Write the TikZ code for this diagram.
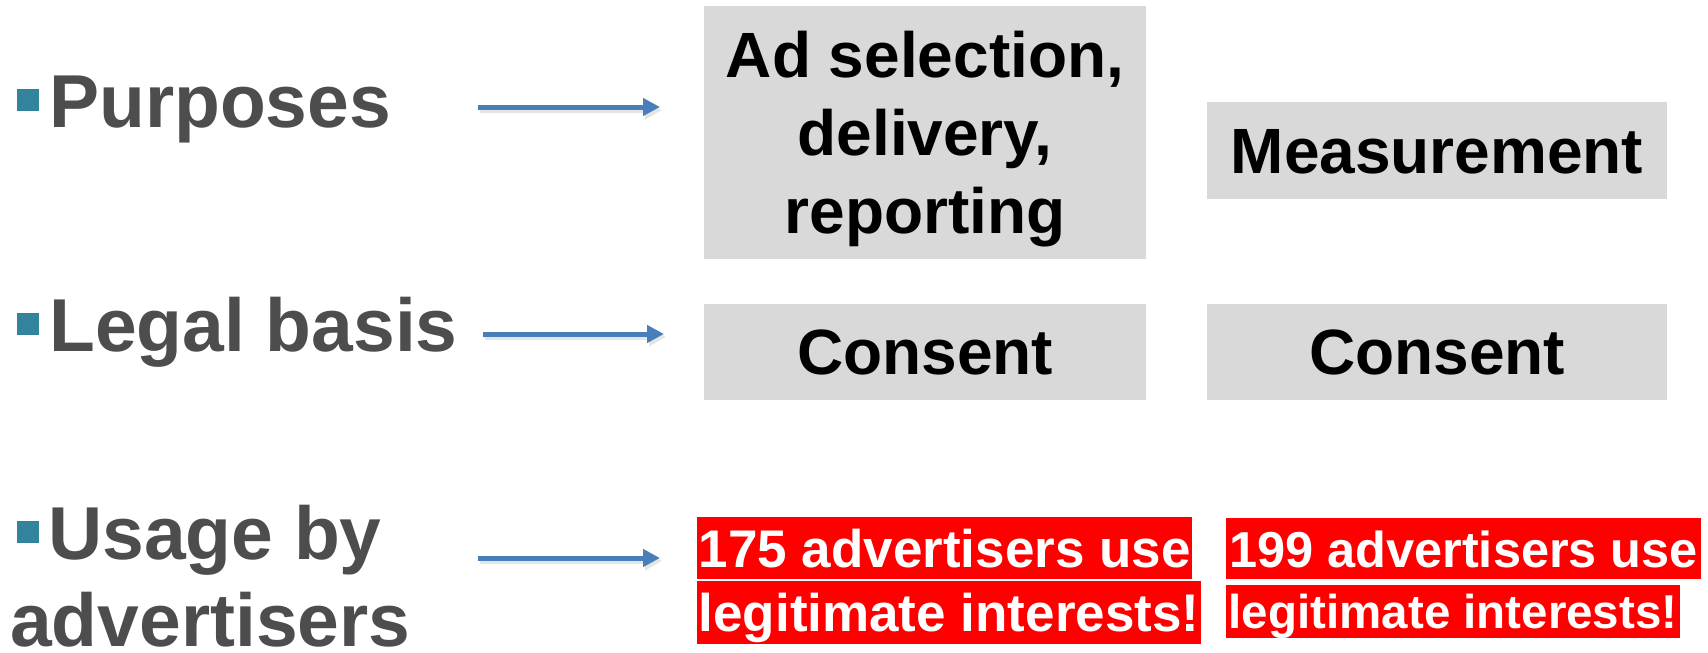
\documentclass[tikz,border=0pt]{standalone}
\usepackage{fontspec}
\setmainfont{Liberation Sans}
\usetikzlibrary{arrows.meta}
\definecolor{lblgrey}{HTML}{4D4D4D}
\definecolor{bullteal}{HTML}{31849B}
\definecolor{arrblue}{HTML}{4A7EBB}
\definecolor{boxgrey}{HTML}{D9D9D9}
\definecolor{hired}{HTML}{FF0000}
\tikzset{
  lbl/.style={anchor=base west, inner sep=0pt, text=lblgrey, font=\fontsize{75}{88}\selectfont\bfseries},
  bullet/.style={fill=bullteal, draw=none, minimum size=22pt, inner sep=0pt},
  arr/.style={draw=arrblue, line width=5pt, -{Triangle[length=17pt,width=17pt]}},
  arrshadow/.style={draw=black!10, line width=6.5pt, -{Triangle[length=17pt,width=18pt]}},
  greybox/.style={fill=boxgrey, draw=none, inner sep=0pt},
  boxtxt/.style={inner sep=0pt, text=black, font=\fontsize{64}{78}\selectfont\bfseries},
  redline/.style={fill=hired, text=white, anchor=base west, inner ysep=0pt}
}
\begin{document}
\begin{tikzpicture}[x=1pt, y=-1pt]
\useasboundingbox (0,0) rectangle (1708,653);

% left labels
\node[bullet] (b1) at (28,100) {};
\node[lbl] (purp) at (49,127) {Purposes};
\node[bullet] (b2) at (28,324) {};
\node[lbl] (legal) at (49,351) {Legal basis};
\node[bullet] (b3) at (28,532) {};
\node[lbl] (usage) at (48,559) {Usage by};
\node[lbl] (adv) at (10,646) {advertisers};

% arrows
\coordinate (a1s) at (478,107);
\coordinate (a1e) at (660,107);
\coordinate (a2s) at (483,334);
\coordinate (a2e) at (664,334);
\coordinate (a3s) at (478,558);
\coordinate (a3e) at (660,558);
\foreach \s/\e in {a1s/a1e, a2s/a2e, a3s/a3e}{
  \draw[arrshadow] ([xshift=2pt,yshift=-3pt]\s) -- ([xshift=2pt,yshift=-3pt]\e);
  \draw[arr] (\s) -- (\e);
}

% grey boxes
\node[greybox, minimum width=442pt, minimum height=253pt] (adsel) at (925,132.5) {};
\node[boxtxt, anchor=base] (adsel1) at (925,77) {Ad selection,};
\node[boxtxt, anchor=base] (adsel2) at (925,155) {delivery,};
\node[boxtxt, anchor=base] (adsel3) at (925,233) {reporting};

\node[greybox, boxtxt, fill=boxgrey, minimum width=460pt, minimum height=97pt, text height=45pt, text depth=0pt] (meas) at (1437,150.5) {Measurement};
\node[greybox, boxtxt, fill=boxgrey, minimum width=442pt, minimum height=96pt, text height=45pt, text depth=0pt] (cons1) at (925,352) {Consent};
\node[greybox, boxtxt, fill=boxgrey, minimum width=460pt, minimum height=96pt, text height=45pt, text depth=0pt] (cons2) at (1437,352) {Consent};

% red highlighted text
\node[redline, inner xsep=1.5pt, text height=50pt, text depth=12pt, font=\fontsize{53}{63}\selectfont\bfseries] (r1a) at (697,567) {175 advertisers use};
\node[redline, inner xsep=1.5pt, text height=50pt, text depth=13pt, font=\fontsize{53}{63}\selectfont\bfseries] (r1b) at (697,631) {legitimate interests!};
\node[redline, inner xsep=3pt, text height=49pt, text depth=12pt, font=\fontsize{50.5}{60}\selectfont\bfseries] (r2a) at (1226,567) {199 advertisers use};
\node[redline, inner xsep=2.5pt, text height=43pt, text depth=10pt, font=\fontsize{47.5}{57}\selectfont\bfseries] (r2b) at (1226,628) {legitimate interests!};
\end{tikzpicture}
\end{document}
